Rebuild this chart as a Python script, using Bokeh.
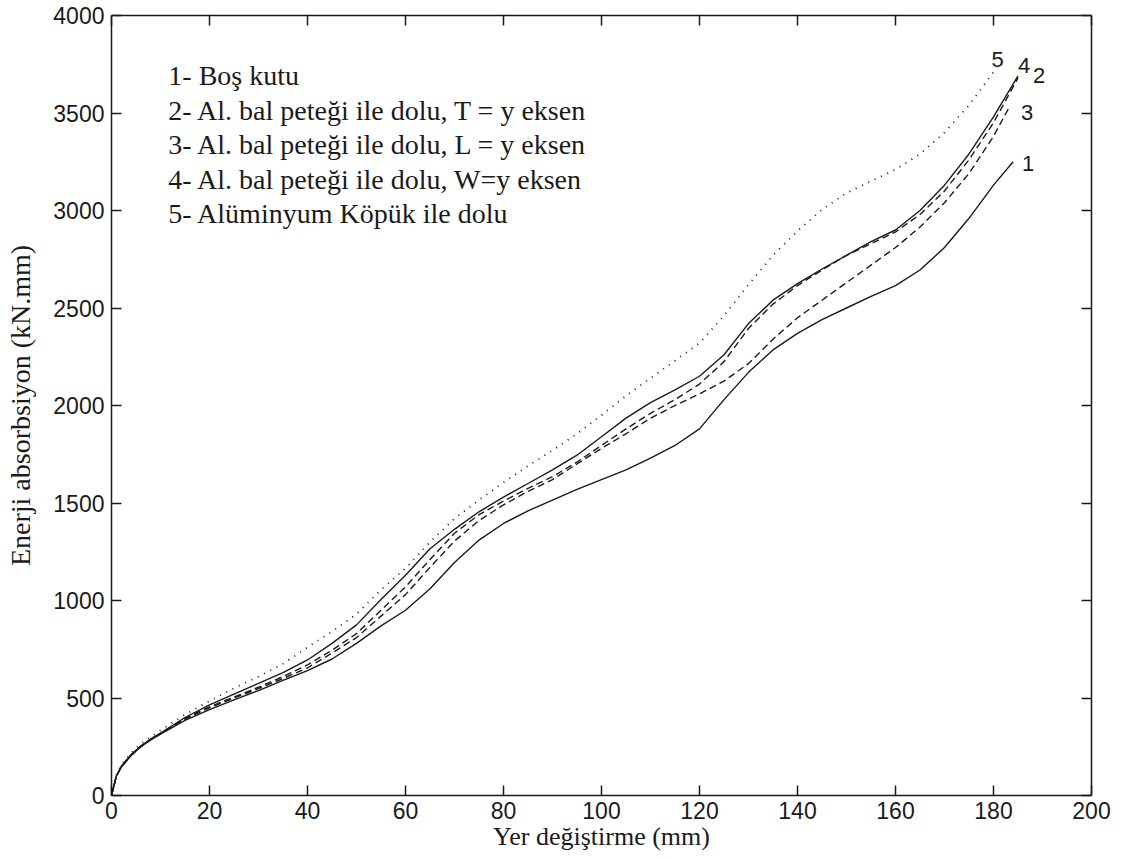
from bokeh.plotting import figure
from bokeh.models import Range1d, LinearAxis, FixedTicker
from bokeh.embed import file_html
from bokeh.resources import INLINE
from bokeh.core.properties import value

# ---------------- data ----------------
x_ticks = [0, 20, 40, 60, 80, 100, 120, 140, 160, 180, 200]
y_ticks = [0, 500, 1000, 1500, 2000, 2500, 3000, 3500, 4000]

x_label = "Yer değiştirme (mm)"
y_label = "Enerji absorbsiyon (kN.mm)"

legend_lines = [
    "1- Boş kutu",
    "2- Al. bal peteği ile dolu, T = y eksen",
    "3- Al. bal peteği ile dolu, L = y eksen",
    "4- Al. bal peteği ile dolu, W=y eksen",
    "5- Alüminyum Köpük ile dolu",
]

# 1 - empty box
x1 = [0, 1, 2, 4, 6, 8, 10, 15, 20, 25, 30, 35, 40, 45, 50, 55, 60, 65, 70, 75,
      80, 85, 90, 95, 100, 105, 110, 115, 120, 125, 130, 135, 140, 145, 150, 155,
      160, 165, 170, 175, 180, 184]
y1 = [0, 100, 145, 205, 250, 285, 315, 385, 440, 490, 538, 590, 640, 700, 780, 870,
      950, 1060, 1195, 1310, 1395, 1460, 1515, 1570, 1620, 1670, 1730, 1795, 1880,
      2030, 2170, 2285, 2370, 2440, 2500, 2560, 2615, 2695, 2810, 2960, 3130, 3250]

# 2 - Al honeycomb, T = y axis
x2 = [0, 1, 2, 4, 6, 8, 10, 15, 20, 25, 30, 35, 40, 45, 50, 55, 60, 65, 70, 75,
      80, 85, 90, 95, 100, 105, 110, 115, 120, 125, 130, 135, 140, 145, 150, 155,
      160, 165, 170, 175, 180, 185]
y2 = [0, 100, 148, 207, 252, 287, 318, 395, 455, 505, 555, 610, 670, 745, 830, 950,
      1070, 1210, 1345, 1440, 1510, 1575, 1635, 1710, 1795, 1880, 1960, 2030, 2110,
      2225, 2395, 2520, 2615, 2695, 2770, 2830, 2890, 2980, 3100, 3260, 3450, 3680]

# 3 - Al honeycomb, L = y axis
x3 = [0, 1, 2, 4, 6, 8, 10, 15, 20, 25, 30, 35, 40, 45, 50, 55, 60, 65, 70, 75,
      80, 85, 90, 95, 100, 105, 110, 115, 120, 125, 130, 135, 140, 145, 150, 155,
      160, 165, 170, 175, 180, 183]
y3 = [0, 100, 147, 206, 251, 286, 316, 392, 450, 500, 548, 600, 655, 730, 810, 920,
      1030, 1170, 1305, 1410, 1490, 1560, 1620, 1700, 1780, 1855, 1935, 2000, 2060,
      2125, 2215, 2340, 2450, 2540, 2630, 2720, 2810, 2915, 3040, 3190, 3380, 3520]

# 4 - Al honeycomb, W = y axis
x4 = [0, 1, 2, 4, 6, 8, 10, 15, 20, 25, 30, 35, 40, 45, 50, 55, 60, 65, 70, 75,
      80, 85, 90, 95, 100, 105, 110, 115, 120, 125, 130, 135, 140, 145, 150, 155,
      160, 165, 170, 175, 180, 185]
y4 = [0, 100, 150, 210, 255, 290, 320, 400, 465, 520, 575, 630, 695, 780, 875, 1005,
      1130, 1265, 1365, 1455, 1530, 1600, 1670, 1745, 1840, 1935, 2015, 2080, 2150,
      2260, 2420, 2540, 2625, 2700, 2770, 2840, 2900, 3000, 3130, 3290, 3480, 3690]

# 5 - aluminium foam
x5 = [0, 1, 2, 4, 6, 8, 10, 15, 20, 25, 30, 35, 40, 45, 50, 55, 60, 65, 70, 75,
      80, 85, 90, 95, 100, 105, 110, 115, 120, 125, 130, 135, 140, 145, 150, 155,
      160, 165, 170, 175, 180]
y5 = [0, 105, 155, 218, 265, 300, 335, 415, 485, 550, 610, 675, 760, 840, 930, 1055,
      1165, 1300, 1420, 1515, 1605, 1690, 1770, 1855, 1950, 2050, 2140, 2230, 2320,
      2460, 2620, 2770, 2895, 3005, 3090, 3150, 3210, 3290, 3400, 3540, 3710]

series_names = ["1", "2", "3", "4", "5"]
series_x = [x1, x2, x3, x4, x5]
series_y = [y1, y2, y3, y4, y5]

# ---------------- styles ----------------
dashes = {"1": "solid", "2": "7 4", "3": "7 4", "4": "solid", "5": "1 6"}
widths = {"1": 1.4, "2": 1.4, "3": 1.4, "4": 1.4, "5": 1.8}
label_offsets = {"1": (15, 2), "2": (21, -2), "3": (19, 3), "4": (6, -10), "5": (4, -13)}

INK = "#1a1a1a"

p = figure(width=1139, height=859,
           x_range=Range1d(0, 200), y_range=Range1d(0, 4000),
           output_backend="svg", toolbar_location=None,
           min_border_left=111, min_border_right=48,
           min_border_top=15, min_border_bottom=64)
p.grid.visible = False
p.outline_line_color = None
p.background_fill_color = "white"
p.border_fill_color = "white"

def style_axis(ax, ticks, show_labels):
    ax.ticker = FixedTicker(ticks=ticks)
    ax.major_tick_in = 10
    ax.major_tick_out = 0
    ax.minor_tick_line_color = None
    ax.axis_line_color = INK
    ax.axis_line_width = 1.5
    ax.major_tick_line_color = INK
    ax.major_tick_line_width = 1.5
    if show_labels:
        ax.major_label_text_font = "Liberation Sans"
        ax.major_label_text_font_size = "23px"
        ax.major_label_text_color = INK
    else:
        ax.major_label_text_color = None
        ax.major_label_text_font_size = "1px"
        ax.major_label_standoff = 0

style_axis(p.xaxis[0], x_ticks, True)
style_axis(p.yaxis[0], y_ticks, True)
p.xaxis[0].major_label_standoff = 6
p.yaxis[0].major_label_standoff = 7

p.xaxis[0].axis_label = x_label
p.xaxis[0].axis_label_text_font = "Liberation Serif"
p.xaxis[0].axis_label_text_font_size = "26px"
p.xaxis[0].axis_label_text_font_style = "normal"
p.xaxis[0].axis_label_text_color = INK
p.xaxis[0].axis_label_standoff = 0

p.yaxis[0].axis_label = y_label
p.yaxis[0].axis_label_text_font = "Liberation Serif"
p.yaxis[0].axis_label_text_font_size = "28px"
p.yaxis[0].axis_label_text_font_style = "normal"
p.yaxis[0].axis_label_text_color = INK
p.yaxis[0].axis_label_standoff = 14

top_axis = LinearAxis()
style_axis(top_axis, x_ticks, False)
p.add_layout(top_axis, "above")
right_axis = LinearAxis()
style_axis(right_axis, y_ticks, False)
p.add_layout(right_axis, "right")

for name, xs, ys in zip(series_names, series_x, series_y):
    p.line(xs, ys, line_color=INK, line_width=widths[name], line_dash=dashes[name],
           line_join="round")

# curve end labels
end_x = [xs[-1] for xs in series_x]
end_y = [ys[-1] for ys in series_y]
p.text(x=end_x, y=end_y, text=series_names,
       x_offset=[label_offsets[n][0] for n in series_names],
       y_offset=[label_offsets[n][1] for n in series_names],
       text_align="center", text_baseline="middle",
       text_font=value("Liberation Sans"), text_font_size="22px", text_color=INK)

# legend text block
leg_x = [11.6] * len(legend_lines)
leg_y = [3692 - i * 177 for i in range(len(legend_lines))]
p.text(x=leg_x, y=leg_y, text=legend_lines, text_align="left", text_baseline="middle",
       text_font=value("Liberation Serif"), text_font_size="28px", text_color=INK)

open("out.html", "w").write(file_html(p, INLINE))
